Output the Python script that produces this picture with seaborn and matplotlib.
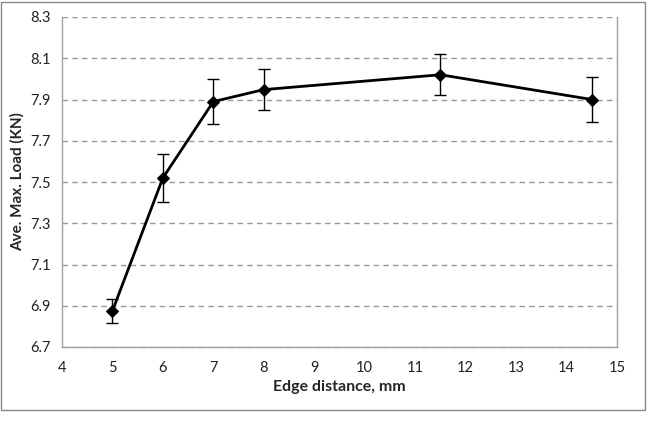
import matplotlib
matplotlib.use("Agg")
import matplotlib.pyplot as plt
import seaborn as sns
import pandas as pd
from matplotlib.patches import Rectangle

# edge distance (mm) vs average max load (KN)
edge_mm = [5, 6, 7, 8, 11.5, 14.5]
load_kn = [6.875, 7.52, 7.89, 7.948, 8.02, 7.90]
load_err = [0.06, 0.118, 0.11, 0.10, 0.10, 0.107]
x_ticks = [4, 5, 6, 7, 8, 9, 10, 11, 12, 13, 14, 15]
y_ticks = [6.7, 6.9, 7.1, 7.3, 7.5, 7.7, 7.9, 8.1, 8.3]

df = pd.DataFrame({"edge": edge_mm, "load": load_kn, "err": load_err})

sns.set_style("white")
plt.rcParams['font.family'] = ['Lato', 'DejaVu Sans']

fig = plt.figure(figsize=(6.48, 4.26), dpi=100)
ax = fig.add_axes([62 / 648, 1 - 347 / 426, 555 / 648, 330 / 426])

ax.errorbar(df["edge"], df["load"], yerr=df["err"], fmt="none",
            ecolor="black", elinewidth=1, capsize=4, capthick=1, zorder=3)
sns.lineplot(data=df, x="edge", y="load", ax=ax, color="black",
             linewidth=2, marker="D", markersize=6, markeredgecolor="black",
             zorder=4)

ax.set_xlim(4, 15)
ax.set_ylim(6.7, 8.3)
ax.set_xticks(x_ticks)
ax.set_yticks(y_ticks)
ax.set_yticklabels([f"{v:.1f}" for v in y_ticks])
ax.yaxis.grid(True, color="#999999", linestyle=(0, (4, 3)), linewidth=1)
ax.xaxis.grid(False)
ax.set_axisbelow(True)

for side in ["left", "bottom", "right"]:
    ax.spines[side].set_visible(True)
    ax.spines[side].set_color("#a0a0a0")
    ax.spines[side].set_linewidth(1)
ax.spines["top"].set_visible(False)

ax.tick_params(axis="x", direction="in", length=4, color="#808080",
               labelsize=10.5, labelcolor="#222222", pad=10)
ax.tick_params(axis="y", length=0, labelsize=10.5, labelcolor="#222222", pad=8)

ax.set_xlabel("Edge distance, mm", fontsize=11.5, fontweight="bold", labelpad=4)
ax.set_ylabel("Ave. Max. Load (KN)", fontsize=11, fontweight="bold")
ax.yaxis.set_label_coords(-0.068, 0.5)

fig.patches.append(Rectangle((1 / 648, 1 - 410 / 426), 644 / 648, 408 / 426,
                             transform=fig.transFigure, fill=False,
                             edgecolor="#888888", linewidth=1))

fig.savefig("out.png", dpi=100)
